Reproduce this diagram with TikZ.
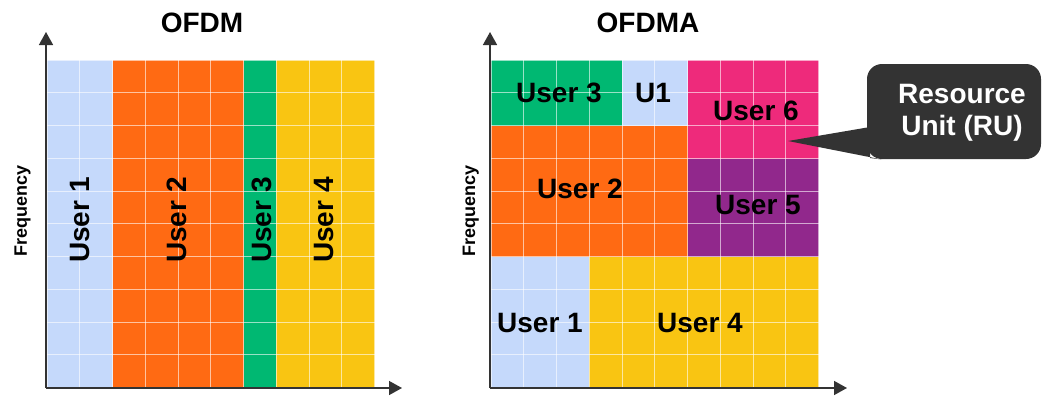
\documentclass[tikz,border=0pt]{standalone}
\usepackage{fontspec}
\setmainfont{Liberation Sans}
\usetikzlibrary{arrows.meta}
\definecolor{ublue}{RGB}{197,217,251}
\definecolor{uorange}{RGB}{255,106,19}
\definecolor{ugreen}{RGB}{0,184,114}
\definecolor{uyellow}{RGB}{249,197,18}
\definecolor{upink}{RGB}{238,42,123}
\definecolor{upurple}{RGB}{145,40,140}
\definecolor{axisgray}{RGB}{51,51,51}
\definecolor{calloutgray}{RGB}{51,51,51}
\begin{document}
\begin{tikzpicture}[x=1pt,y=-1pt,
  gridline/.style={draw=white,draw opacity=0.6,line width=1pt},
  axisline/.style={draw=axisgray,line width=1.5pt,-{Triangle[width=14pt,length=13pt]}},
  biglabel/.style={font=\fontsize{28}{32}\selectfont\bfseries,inner sep=0pt,text=black},
  freqlabel/.style={font=\fontsize{18}{20}\selectfont\bfseries,inner sep=0pt,rotate=90,anchor=base west},
  calloutbox/.style={fill=calloutgray,rounded corners=15pt},
  callouttext/.style={font=\fontsize{28}{32}\selectfont\bfseries,inner sep=0pt,text=white,anchor=base}]
\useasboundingbox (0,0) rectangle (1043,397);
\def\c{32.75}
% ---------- OFDM (left) ----------
\fill[ublue]   (47,60) rectangle (112.5,388);
\fill[uorange] (112.5,60) rectangle (243.5,388);
\fill[ugreen]  (243.5,60) rectangle (276.25,388);
\fill[uyellow] (276.25,60) rectangle (374.5,388);
\foreach \i in {0,...,10}{
  \draw[gridline] ({47+\i*\c},60) -- ({47+\i*\c},388);
  \draw[gridline] (47,{60+\i*\c}) -- (374.5,{60+\i*\c});
}
\coordinate (lo) at (46,388);
\coordinate (ltop) at (46,32);
\coordinate (lright) at (402,388);
\draw[axisline] (lo) -- (ltop);
\draw[axisline] (lo) -- (lright);
\node[biglabel,anchor=base] (t1) at (202,32) {OFDM};
\node[freqlabel] (f1) at (27,257) {Frequency};
\node[biglabel,rotate=90,anchor=west] (a1) at (80.5,263) {User 1};
\node[biglabel,rotate=90,anchor=west] (a2) at (176.5,263) {User 2};
\node[biglabel,rotate=90,anchor=west] (a3) at (262,263) {User 3};
\node[biglabel,rotate=90,anchor=west] (a4) at (324,263) {User 4};
% ---------- OFDMA (right) ----------
\fill[ugreen]  (491,60) rectangle (622,126);
\fill[ublue]   (622,60) rectangle (687.5,126);
\fill[upink]   (687.5,60) rectangle (818.5,159);
\fill[uorange] (491,126) rectangle (687.5,257);
\fill[upurple] (687.5,159) rectangle (818.5,257);
\fill[ublue]   (491,257) rectangle (589.25,388);
\fill[uyellow] (589.25,257) rectangle (818.5,388);
\foreach \i in {0,...,10}{
  \draw[gridline] ({491+\i*\c},60) -- ({491+\i*\c},388);
  \draw[gridline] (491,{60+\i*\c}) -- (818.5,{60+\i*\c});
}
\coordinate (ro) at (490,388);
\coordinate (rtop) at (490,32);
\coordinate (rright) at (847,388);
\draw[axisline] (ro) -- (rtop);
\draw[axisline] (ro) -- (rright);
\node[biglabel,anchor=base] (t2) at (648,32) {OFDMA};
\node[freqlabel] (f2) at (475,257) {Frequency};
\node[biglabel,anchor=base] (b3) at (559,102) {User 3};
\node[biglabel,anchor=base] (b1s) at (653,102) {U1};
\node[biglabel,anchor=base] (b6) at (756,120) {User 6};
\node[biglabel,anchor=base] (b2) at (580,198) {User 2};
\node[biglabel,anchor=base] (b5) at (758,214) {User 5};
\node[biglabel,anchor=base] (b1) at (540,332) {User 1};
\node[biglabel,anchor=base] (b4) at (700,332) {User 4};
% ---------- callout ----------
\coordinate (ptip) at (788,141);
\fill[calloutgray] (ptip) -- (870,127) -- (870,158) -- (882,159.5) -- cycle;
\fill[calloutbox] (867,64) rectangle (1041,159);
\node[callouttext] (r1) at (962,103) {Resource};
\node[callouttext] (r2) at (962,135) {Unit (RU)};
\end{tikzpicture}
\end{document}
